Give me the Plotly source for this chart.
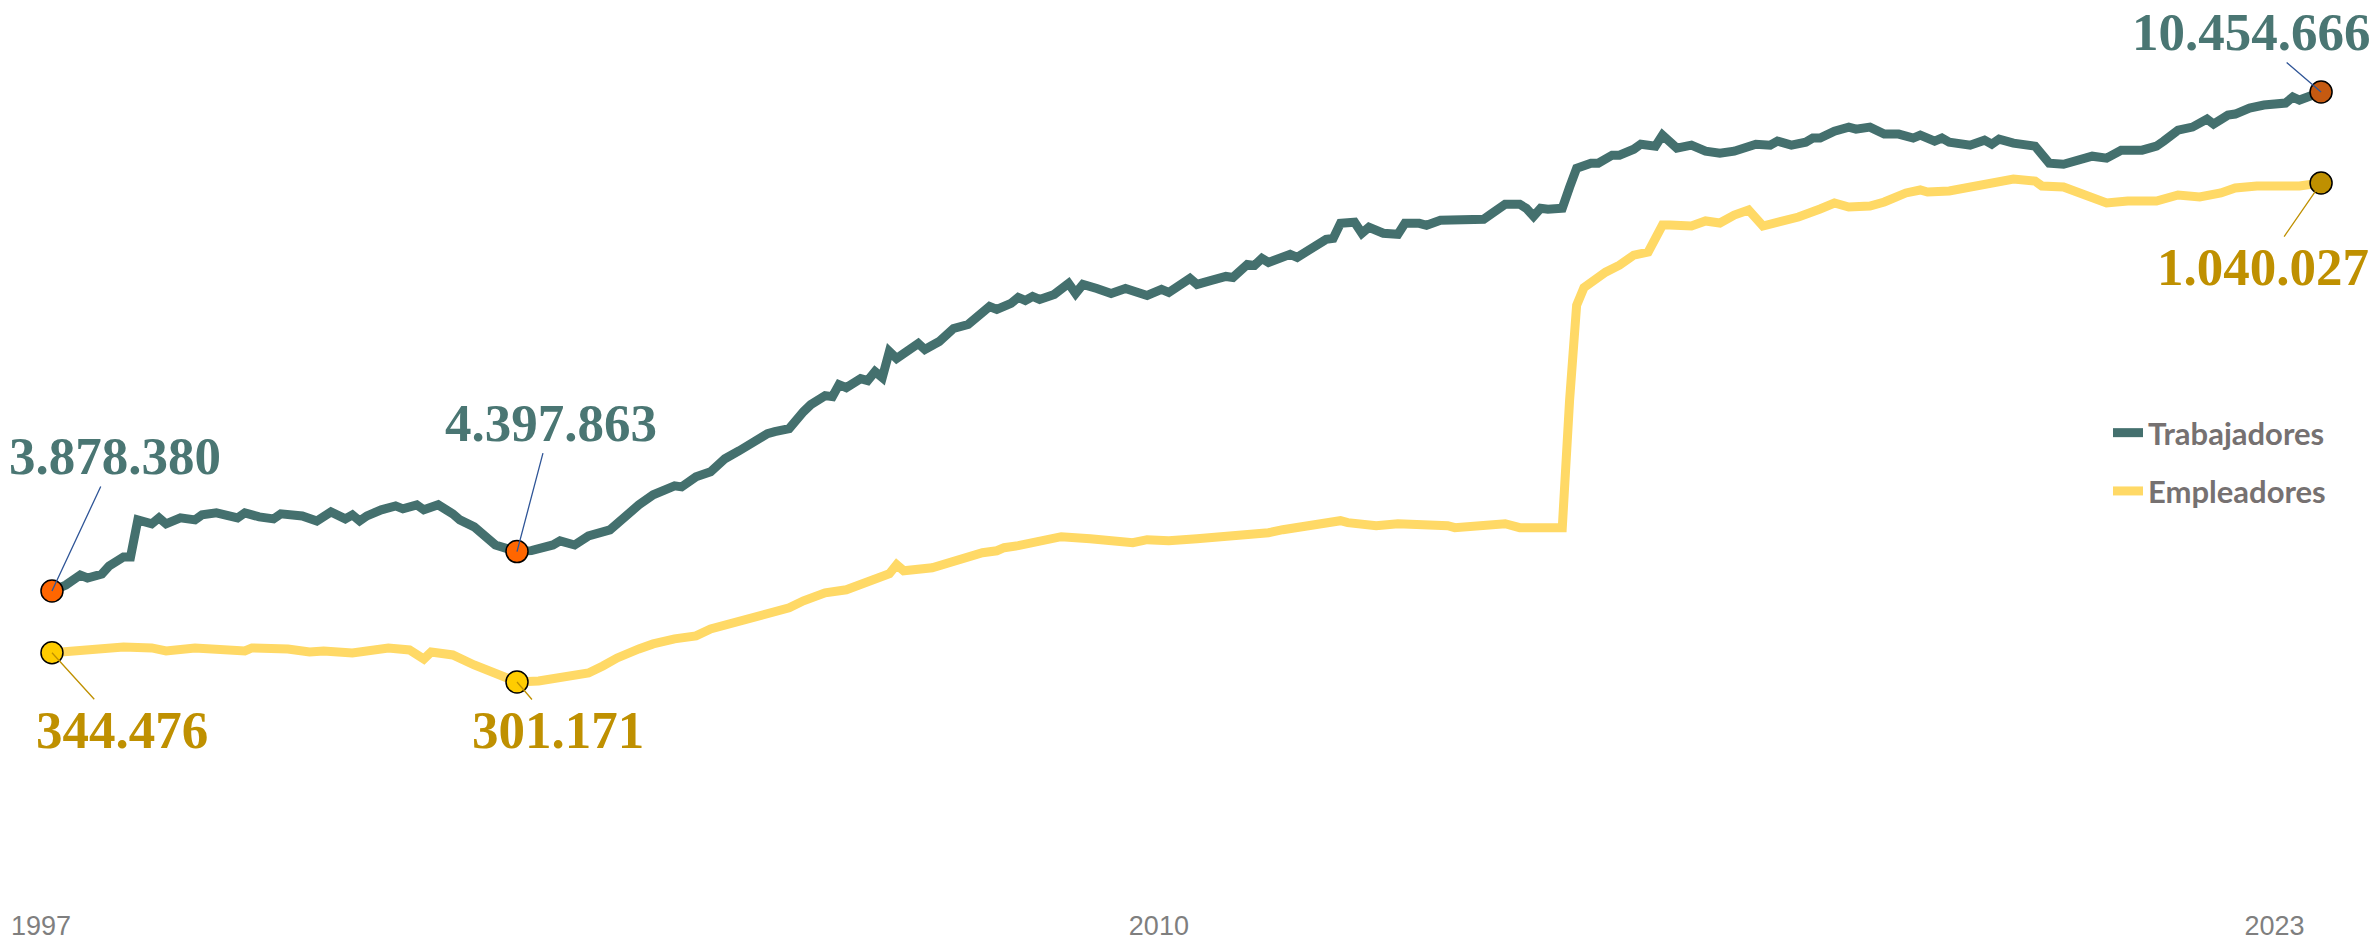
import plotly.graph_objects as go

# ---------------- data ----------------
trab_dates = [
    "1997-01", "1997-03", "1997-05", "1997-06", "1997-08", "1997-09", "1997-11", "1997-12",
    "1998-01", "1998-03", "1998-04", "1998-05", "1998-07", "1998-09", "1998-10", "1998-12",
    "1999-03", "1999-04", "1999-06", "1999-08", "1999-09", "1999-12", "2000-02", "2000-04",
    "2000-06", "2000-07", "2000-08", "2000-09", "2000-11", "2001-01", "2001-02", "2001-04",
    "2001-05", "2001-07", "2001-09", "2001-10", "2001-12", "2002-02", "2002-03", "2002-06",
    "2002-08", "2002-11", "2002-12", "2003-02", "2003-04", "2003-07", "2003-09", "2003-11",
    "2004-01", "2004-04", "2004-05", "2004-07", "2004-09", "2004-11", "2005-01", "2005-03",
    "2005-05", "2005-06", "2005-08", "2005-10", "2005-11", "2006-01", "2006-02", "2006-03",
    "2006-04", "2006-06", "2006-07", "2006-08", "2006-09", "2006-10", "2006-11", "2007-02",
    "2007-03", "2007-05", "2007-07", "2007-09", "2007-12", "2008-01", "2008-03", "2008-04",
    "2008-05", "2008-06", "2008-07", "2008-09", "2008-10", "2008-11", "2008-12", "2009-01",
    "2009-03", "2009-05", "2009-07", "2009-09", "2009-10", "2009-12", "2010-01", "2010-04",
    "2010-05", "2010-07", "2010-09", "2010-10", "2010-12", "2011-01", "2011-02", "2011-03",
    "2011-05", "2011-06", "2011-07", "2011-09", "2011-10", "2011-11", "2011-12", "2012-01",
    "2012-03", "2012-04", "2012-05", "2012-07", "2012-09", "2012-10", "2012-12", "2013-01",
    "2013-03", "2013-06", "2013-09", "2013-10", "2013-12", "2014-02", "2014-03", "2014-04",
    "2014-05", "2014-06", "2014-08", "2014-09", "2014-10", "2014-12", "2015-01", "2015-03",
    "2015-04", "2015-06", "2015-07", "2015-09", "2015-10", "2015-12", "2016-02", "2016-04",
    "2016-06", "2016-08", "2016-11", "2017-01", "2017-02", "2017-04", "2017-06", "2017-07",
    "2017-08", "2017-10", "2017-12", "2018-01", "2018-03", "2018-05", "2018-07", "2018-09",
    "2018-10", "2018-12", "2019-01", "2019-02", "2019-05", "2019-07", "2019-08", "2019-09",
    "2019-11", "2020-02", "2020-03", "2020-04", "2020-06", "2020-08", "2020-10", "2020-12",
    "2021-02", "2021-05", "2021-07", "2021-08", "2021-10", "2021-12", "2022-02", "2022-03",
    "2022-05", "2022-06", "2022-08", "2022-10", "2023-01", "2023-02", "2023-03", "2023-06",
]
trab_values = [
    3878380, 3957000, 4089000, 4050000, 4103000, 4208000, 4327000, 4327000,
    4815000, 4763000, 4842000, 4763000, 4842000, 4816000, 4882000, 4908000,
    4842000, 4908000, 4855000, 4829000, 4895000, 4868000, 4802000, 4921000,
    4829000, 4882000, 4802000, 4868000, 4948000, 5000000, 4961000, 5014000,
    4948000, 5014000, 4895000, 4816000, 4723000, 4565000, 4485000, 4397863,
    4410000, 4485000, 4538000, 4485000, 4604000, 4683000, 4855000, 5014000,
    5146000, 5265000, 5251000, 5383000, 5449000, 5621000, 5727000, 5846000,
    5951000, 5978000, 6017000, 6242000, 6334000, 6453000, 6440000, 6598000,
    6559000, 6678000, 6651000, 6770000, 6691000, 7034000, 6942000, 7140000,
    7061000, 7166000, 7338000, 7391000, 7628000, 7589000, 7668000, 7747000,
    7708000, 7760000, 7721000, 7787000, 7853000, 7932000, 7800000, 7919000,
    7866000, 7800000, 7866000, 7800000, 7774000, 7853000, 7813000, 7998000,
    7919000, 7972000, 8024000, 8011000, 8183000, 8170000, 8262000, 8209000,
    8262000, 8315000, 8275000, 8381000, 8447000, 8513000, 8526000, 8724000,
    8738000, 8593000, 8672000, 8593000, 8579000, 8724000, 8724000, 8698000,
    8764000, 8764000, 8778000, 8843000, 8975000, 8975000, 8922000, 8817000,
    8922000, 8909000, 8922000, 9200000, 9450000, 9517000, 9517000, 9622000,
    9622000, 9701000, 9767000, 9741000, 9886000, 9715000, 9754000, 9675000,
    9649000, 9675000, 9767000, 9754000, 9807000, 9754000, 9794000, 9847000,
    9847000, 9939000, 9992000, 9965000, 9992000, 9900000, 9900000, 9847000,
    9886000, 9807000, 9847000, 9794000, 9754000, 9820000, 9767000, 9834000,
    9781000, 9741000, 9609000, 9517000, 9503000, 9556000, 9609000, 9583000,
    9688000, 9688000, 9741000, 9807000, 9952000, 9992000, 10098000, 10032000,
    10150000, 10164000, 10243000, 10283000, 10309000, 10388000, 10349000, 10454666,
]

empl_dates = [
    "1997-01", "1997-04", "1997-09", "1997-11", "1998-03", "1998-05", "1998-09", "1998-12",
    "1999-04", "1999-05", "1999-10", "2000-01", "2000-03", "2000-07", "2000-12", "2001-03",
    "2001-05", "2001-06", "2001-09", "2001-12", "2002-03", "2002-06", "2002-09", "2003-01",
    "2003-04", "2003-06", "2003-08", "2003-11", "2004-01", "2004-04", "2004-07", "2004-09",
    "2004-12", "2005-04", "2005-08", "2005-10", "2006-01", "2006-04", "2006-07", "2006-10",
    "2006-11", "2006-12", "2007-04", "2007-08", "2007-11", "2008-01", "2008-02", "2008-04",
    "2008-06", "2008-07", "2008-10", "2009-02", "2009-08", "2009-10", "2010-01", "2010-05",
    "2010-07", "2010-11", "2011-03", "2011-05", "2011-08", "2011-11", "2012-01", "2012-02",
    "2012-05", "2012-06", "2012-09", "2013-01", "2013-04", "2013-05", "2013-08", "2013-12",
    "2014-02", "2014-05", "2014-08", "2014-09", "2014-10", "2014-11", "2015-02", "2015-04",
    "2015-06", "2015-08", "2015-09", "2015-10", "2015-11", "2016-02", "2016-04", "2016-06",
    "2016-08", "2016-10", "2016-12", "2017-01", "2017-03", "2017-05", "2017-08", "2017-10",
    "2017-12", "2018-03", "2018-05", "2018-08", "2018-10", "2018-11", "2019-02", "2019-05",
    "2019-08", "2019-09", "2019-11", "2020-02", "2020-03", "2020-06", "2020-08", "2020-10",
    "2020-12", "2021-03", "2021-07", "2021-10", "2022-01", "2022-04", "2022-06", "2022-09",
    "2022-12", "2023-03", "2023-06",
]
empl_values = [
    344476, 347200, 351600, 353100, 351600, 347200, 351600, 350100,
    347200, 351600, 350100, 345700, 347200, 344200, 351600, 348600,
    335300, 345700, 341200, 326400, 313000, 301171, 302700, 310100,
    314500, 324900, 336800, 350100, 357600, 365000, 369400, 379800,
    388700, 399100, 411000, 421400, 433200, 437700, 448100, 461400,
    474800, 465900, 470300, 483700, 492600, 495500, 500000, 503000,
    507400, 510400, 516300, 513300, 507400, 511900, 510400, 513300,
    514800, 520800, 522200, 526700, 531100, 537100, 540000, 537100,
    534100, 532600, 535600, 535600, 532600, 529700, 531100, 535600,
    529700, 528200, 529700, 718100, 859000, 885000, 908000, 918400,
    933200, 937700, 960000, 977800, 977800, 976300, 983800, 980800,
    992600, 1000000, 976300, 979300, 982300, 989700, 1001600, 1010400,
    1004500, 1006000, 1011900, 1025300, 1029700, 1026700, 1028200, 1034100,
    1041600, 1044500, 1046000, 1043000, 1035600, 1034100, 1026700, 1019300,
    1010400, 1013400, 1013400, 1022300, 1019300, 1025300, 1032600, 1035600,
    1034100, 1035600, 1040027,
]

highlight_dates = ["1997-01", "2002-06", "2023-06"]
trab_marker_colors = ["#FF6600", "#FF6600", "#C55A11"]
empl_marker_colors = ["#FFCC00", "#FFCC00", "#BF9000"]

year_ticks = ["1996-11-15", "2009-11-20", "2022-11-15"]
year_labels = ["1997", "2010", "2023"]

TEAL = "#44706E"
TEAL_TXT = "#4A7673"
YELLOW = "#FFD966"
GOLD = "#BF9000"


def fmt(v):
    return f"{v:,.0f}".replace(",", ".")


def lookup(dates, values, d):
    return values[dates.index(d)]


fig = go.Figure()

fig.add_trace(go.Scatter(
    x=trab_dates, y=trab_values, name="Trabajadores", mode="lines",
    line=dict(color=TEAL, width=9), yaxis="y", legendgroup="t",
))
fig.add_trace(go.Scatter(
    x=empl_dates, y=empl_values, name="Empleadores", mode="lines",
    line=dict(color=YELLOW, width=9), yaxis="y2", legendgroup="e",
))

trab_hl = [lookup(trab_dates, trab_values, d) for d in highlight_dates]
empl_hl = [lookup(empl_dates, empl_values, d) for d in highlight_dates]

fig.add_trace(go.Scatter(
    x=highlight_dates, y=empl_hl, mode="markers", showlegend=False, yaxis="y2",
    marker=dict(size=22, color=empl_marker_colors, line=dict(color="black", width=1.5)),
))
fig.add_trace(go.Scatter(
    x=highlight_dates, y=trab_hl, mode="markers", showlegend=False, yaxis="y",
    marker=dict(size=22, color=trab_marker_colors, line=dict(color="black", width=1.5)),
))

# label offsets (pixels) for the callouts
trab_offsets = [(63, -135), (34, -129), (-70, -60)]
empl_offsets = [(70, 77), (41, 48), (-58, 84)]

ann_font = "Liberation Serif, Times New Roman, serif"
annotations = []
for d, v, (ax, ay) in zip(highlight_dates, trab_hl, trab_offsets):
    annotations.append(dict(
        x=d, y=v, xref="x", yref="y", ax=ax, ay=ay,
        text=f"<b>{fmt(v)}</b>", showarrow=True, arrowhead=0, arrowwidth=1.3,
        arrowcolor="#2F5597", standoff=0,
        font=dict(family=ann_font, size=53, color=TEAL_TXT),
    ))
for d, v, (ax, ay) in zip(highlight_dates, empl_hl, empl_offsets):
    annotations.append(dict(
        x=d, y=v, xref="x", yref="y2", ax=ax, ay=ay,
        text=f"<b>{fmt(v)}</b>", showarrow=True, arrowhead=0, arrowwidth=1.3,
        arrowcolor=GOLD, standoff=0,
        font=dict(family=ann_font, size=53, color=GOLD),
    ))

W, H = 2374, 942
PLOT_H = 895

fig.update_layout(
    width=W, height=H,
    margin=dict(l=0, r=0, t=0, b=H - PLOT_H, pad=0),
    paper_bgcolor="white", plot_bgcolor="white",
    showlegend=True,
    legend=dict(
        x=2108 / W, xanchor="left", y=1 - 462 / PLOT_H, yanchor="middle",
        font=dict(family="Lato, Calibri, sans-serif", size=31, color="#767171", weight="bold"),
        bgcolor="rgba(0,0,0,0)", tracegroupgap=15, traceorder="grouped",
        itemwidth=30,
    ),
    xaxis=dict(
        type="date", range=["1996-05-25", "2024-01-12"],
        showgrid=False, zeroline=False, showline=False, ticks="",
        tickmode="array", tickvals=year_ticks, ticktext=year_labels,
        tickfont=dict(family="Liberation Sans Narrow, Arial Narrow, Liberation Sans, sans-serif",
                      size=27, color="#7F7F7F"),
        ticklabelstandoff=12,
        automargin=False,
    ),
    yaxis=dict(range=[-128036, 11667169], visible=False, fixedrange=True),
    yaxis2=dict(range=[-14218, 1311008], visible=False, overlaying="y", fixedrange=True),
    annotations=annotations,
)

fig.write_html(
    "out.html",
    config={"displayModeBar": False},
    post_script="document.body.style.margin='0';document.body.style.padding='0';",
)
